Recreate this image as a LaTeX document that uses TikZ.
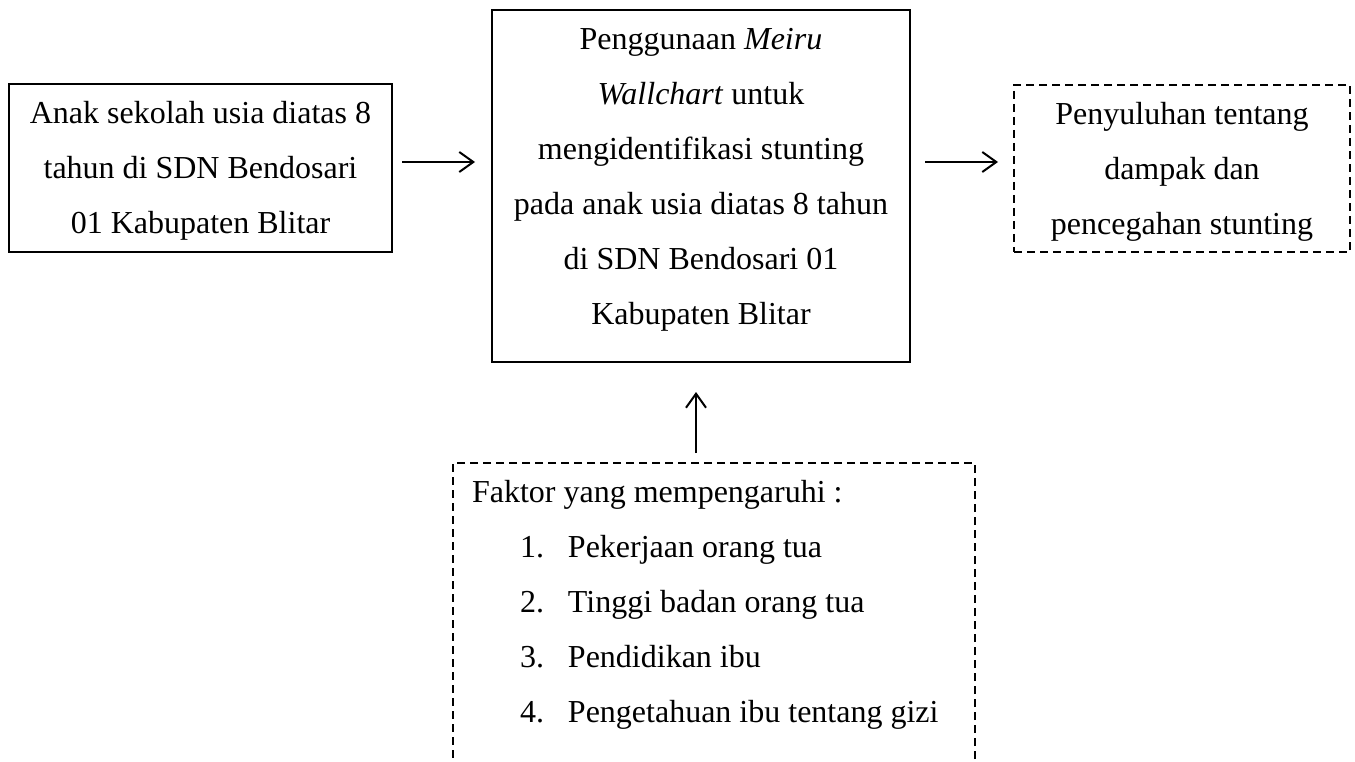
\documentclass[tikz,border=0pt]{standalone}
\usepackage{fontspec}
\setmainfont{Liberation Serif}
\usetikzlibrary{arrows.meta}
\newcommand{\lnstrut}{\rule[-15.5pt]{0pt}{55pt}}
\newcommand{\boxtext}[3]{\parbox[c][#2][t]{#1}{\centering\fontsize{32pt}{55pt}\selectfont #3}}
\newcommand{\boxlist}[3]{\parbox[c][#2][t]{#1}{\raggedright\fontsize{32pt}{55pt}\selectfont #3}}
\newcommand{\itm}[2]{\lnstrut\hspace*{67pt}\makebox[48pt][l]{#1}#2}
\tikzset{
  boxsolid/.style={draw, line width=2pt, inner sep=0pt, anchor=north west},
  boxdash/.style={boxsolid, dash pattern=on 8pt off 5pt},
  arr/.style={line width=2pt, -{Straight Barb[length=14pt,width=20pt]}},
}
\begin{document}
\begin{tikzpicture}[x=1pt,y=-1pt]
\useasboundingbox (0,0) rectangle (1355,762);
\clip (0,0) rectangle (1355,762);
\node[boxsolid] (a) at (8,83) {\boxtext{383pt}{168pt}{\lnstrut Anak sekolah usia diatas 8\\\lnstrut tahun di SDN Bendosari\\\lnstrut 01 Kabupaten Blitar}};
\node[boxsolid] (b) at (491,9) {\boxtext{418pt}{352pt}{\lnstrut Penggunaan \textit{Meiru}\\\lnstrut \textit{Wallchart} untuk\\\lnstrut mengidentifikasi stunting\\\lnstrut pada anak usia diatas 8 tahun\\\lnstrut di SDN Bendosari 01\\\lnstrut Kabupaten Blitar}};
\node[boxdash] (c) at (1013,84) {\boxtext{336pt}{167pt}{\lnstrut Penyuluhan tentang\\\lnstrut dampak dan\\\lnstrut pencegahan stunting}};
\node[boxdash] (d) at (452,462) {\boxlist{522pt}{320pt}{\lnstrut\hspace*{19pt}Faktor yang mempengaruhi :\\
\itm{1.}{Pekerjaan orang tua}\\
\itm{2.}{Tinggi badan orang tua}\\
\itm{3.}{Pendidikan ibu}\\
\itm{4.}{Pengetahuan ibu tentang gizi}}};
\coordinate (s1) at ([xshift=9pt,yshift=6pt]a.east);
\draw[arr] (s1) -- ([xshift=-16pt]s1 -| b.west);
\coordinate (s2) at ([xshift=14pt,yshift=24pt]b.east);
\draw[arr] (s2) -- ([xshift=-15pt]s2 -| c.west);
\coordinate (s3) at ([xshift=-18pt,yshift=9pt]d.north);
\draw[arr] (s3) -- ([yshift=-29pt]s3 |- b.south);
\end{tikzpicture}
\end{document}
